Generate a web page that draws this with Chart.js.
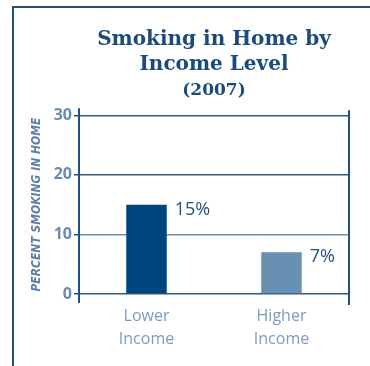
<!DOCTYPE html>
<html>
<head>
<meta charset="utf-8">
<script src="https://cdn.jsdelivr.net/npm/chart.js@4"></script>
<style>
  body { margin: 0; background: #fff; }
  #wrap { position: relative; width: 370px; height: 366px; overflow: hidden; }
  #frame { position: absolute; left: 12px; top: 6px; width: 400px; height: 400px; border: 2px solid #1f4f82; }
  canvas { position: absolute; left: 0; top: 0; }
</style>
</head>
<body>
<div id="wrap">
  <div id="frame"></div>
  <canvas id="myChart" width="370" height="366"></canvas>
</div>
<script>
// tulotasot ja kotona tupakoivien osuus (%)
const incomeGroups = [['Lower', 'Income'], ['Higher', 'Income']]
const smokingPct = [15, 7]
const titleLines = ['Smoking in Home by', 'Income Level']
const subTitle = '(2007)'
const axisTitle = 'PERCENT SMOKING IN HOME'

const dark = '#1f4f82'

// arvot palkin oikealle puolelle
const valueLabels = {
  id: 'valueLabels',
  afterDatasetsDraw(chart) {
    const ctx = chart.ctx
    const meta = chart.getDatasetMeta(0)
    ctx.save()
    ctx.font = '18px "Open Sans"'
    ctx.fillStyle = '#23507f'
    ctx.textBaseline = 'middle'
    meta.data.forEach((bar, i) => {
      ctx.fillText(smokingPct[i] + '%', bar.x + bar.width / 2 + 8, bar.y + 5)
    })
    ctx.restore()
  }
}

// pystyviivat vasemmalle ja oikealle, vähän yli kaavion reunojen
const sideLines = {
  id: 'sideLines',
  afterDraw(chart) {
    const ctx = chart.ctx
    const a = chart.chartArea
    ctx.save()
    ctx.strokeStyle = dark
    ctx.lineWidth = 2
    ctx.beginPath()
    ctx.moveTo(a.left, a.top - 7)
    ctx.lineTo(a.left, a.bottom + 9)
    ctx.moveTo(a.right, a.top - 5)
    ctx.lineTo(a.right, a.bottom + 11)
    ctx.stroke()
    ctx.restore()
  }
}

new Chart(document.getElementById('myChart'), {
  type: 'bar',
  data: {
    labels: incomeGroups,
    datasets: [{
      data: smokingPct,
      backgroundColor: ['#00457c', '#6890b3'],
      categoryPercentage: 1,
      barPercentage: 0.3
    }]
  },
  options: {
    responsive: false,
    animation: false,
    layout: { padding: { top: 0, right: 21, left: 0, bottom: 0 } },
    plugins: {
      legend: { display: false },
      tooltip: { enabled: false },
      title: {
        display: true,
        text: titleLines,
        fullSize: false,
        color: '#1a4b7c',
        font: { family: 'DejaVu Serif', size: 20, weight: 'bold', lineHeight: 1.25 },
        padding: { top: 27, bottom: 3 }
      },
      subtitle: {
        display: true,
        text: subTitle,
        fullSize: false,
        color: '#1a4b7c',
        font: { family: 'DejaVu Serif', size: 17, weight: 'bold', lineHeight: 1.25 },
        padding: { top: 0, bottom: 14 }
      }
    },
    scales: {
      x: {
        afterFit(scale) { scale.height = 72 },
        grid: { display: false, drawTicks: false },
        border: { display: false },
        ticks: {
          color: '#7b9cc0',
          padding: 11,
          font: { family: 'Open Sans', size: 16, lineHeight: 1.45 }
        }
      },
      y: {
        min: 0,
        max: 30,
        afterFit(scale) { scale.width = 79 },
        border: { display: false },
        grid: {
          color: ctx => ctx.tick && ctx.tick.value === 10 ? '#6f93b5' : '#2d5a88',
          lineWidth: 1.5,
          tickLength: 5,
          tickColor: dark
        },
        ticks: {
          stepSize: 10,
          color: '#6b8cb0',
          padding: 2,
          font: { family: 'Open Sans', size: 16, weight: 'bold' }
        },
        title: {
          display: true,
          text: axisTitle,
          color: '#5a7fa8',
          padding: { top: 30, bottom: 0 },
          font: { family: "'Liberation Sans Narrow', 'DejaVu Sans Condensed', sans-serif", size: 12, style: 'italic', weight: 'bold', lineHeight: 1.2 }
        }
      }
    }
  },
  plugins: [valueLabels, sideLines]
})
</script>
</body>
</html>
